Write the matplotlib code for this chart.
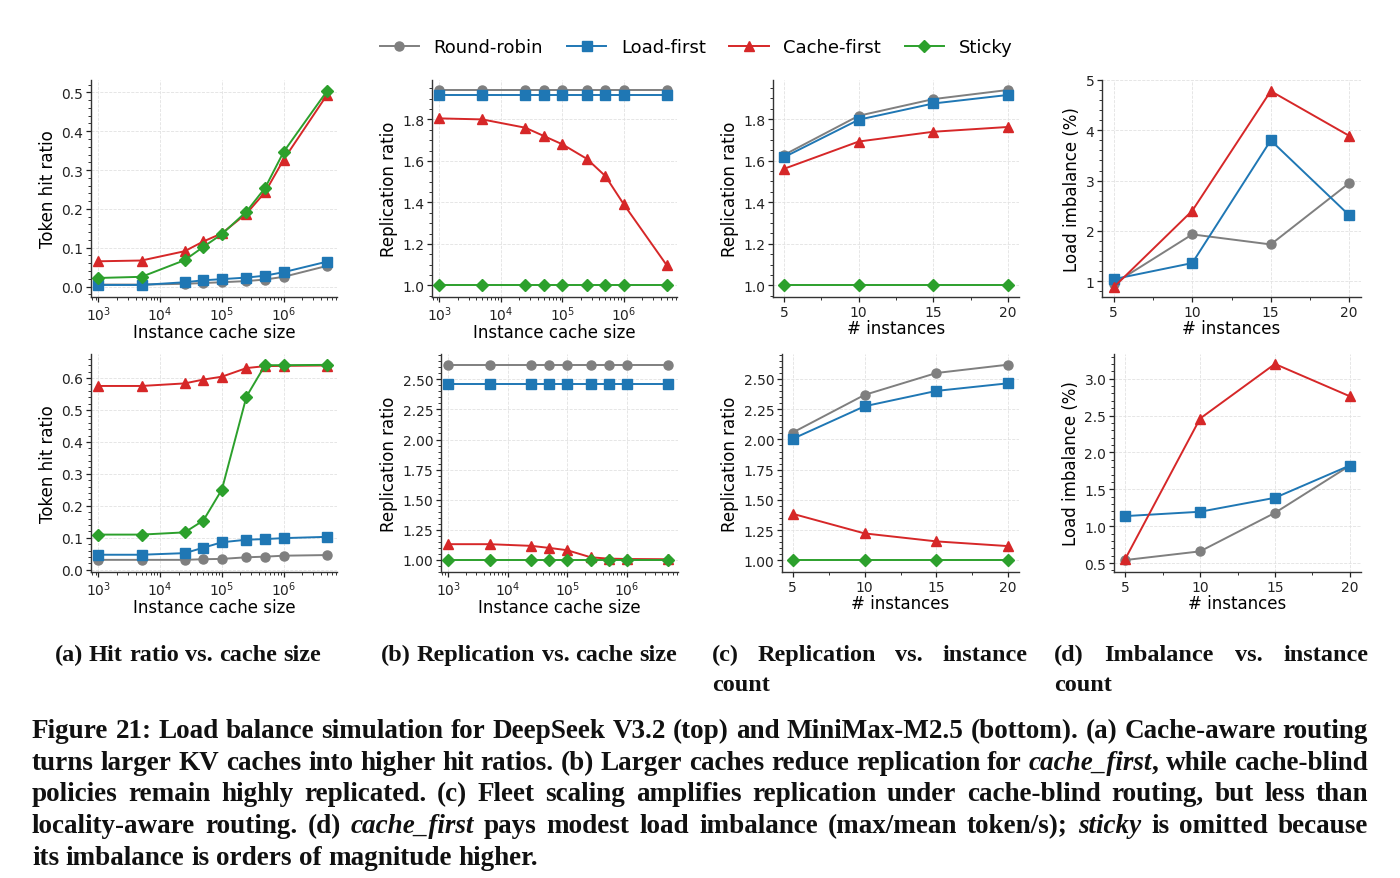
import numpy as np
import matplotlib.pyplot as plt
from matplotlib.ticker import AutoMinorLocator, MultipleLocator

policies = ['Round-robin', 'Load-first', 'Cache-first', 'Sticky']
colors = ['#7f7f7f', '#1f77b4', '#d62728', '#2ca02c']
markers = ['o', 's', '^', 'D']

cache_sizes = [1e3, 5e3, 2.5e4, 5e4, 1e5, 2.5e5, 5e5, 1e6, 5e6]
instances = [5, 10, 15, 20]

# DeepSeek V3.2 (top row)
ds_hit = {
    'Round-robin': [0.005, 0.005, 0.007, 0.009, 0.011, 0.014, 0.018, 0.025, 0.053],
    'Load-first': [0.004, 0.004, 0.011, 0.016, 0.019, 0.023, 0.028, 0.037, 0.064],
    'Cache-first': [0.065, 0.067, 0.091, 0.116, 0.137, 0.188, 0.243, 0.327, 0.493],
    'Sticky': [0.022, 0.025, 0.068, 0.102, 0.135, 0.193, 0.254, 0.347, 0.503],
}
ds_rep_cache = {
    'Round-robin': [1.941, 1.941, 1.941, 1.941, 1.941, 1.941, 1.941, 1.941, 1.941],
    'Load-first': [1.920, 1.920, 1.920, 1.920, 1.920, 1.920, 1.920, 1.920, 1.920],
    'Cache-first': [1.805, 1.800, 1.760, 1.720, 1.680, 1.610, 1.527, 1.390, 1.096],
    'Sticky': [1.0, 1.0, 1.0, 1.0, 1.0, 1.0, 1.0, 1.0, 1.0],
}
ds_rep_inst = {
    'Round-robin': [1.628, 1.816, 1.896, 1.940],
    'Load-first': [1.617, 1.797, 1.875, 1.916],
    'Cache-first': [1.561, 1.692, 1.739, 1.762],
    'Sticky': [1.0, 1.0, 1.0, 1.0],
}
ds_imb = {
    'Round-robin': [0.95, 1.93, 1.73, 2.95],
    'Load-first': [1.04, 1.36, 3.80, 2.31],
    'Cache-first': [0.88, 2.40, 4.78, 3.89],
}

# MiniMax-M2.5 (bottom row)
mm_hit = {
    'Round-robin': [0.031, 0.031, 0.031, 0.033, 0.034, 0.039, 0.041, 0.044, 0.046],
    'Load-first': [0.047, 0.047, 0.052, 0.069, 0.086, 0.094, 0.096, 0.099, 0.103],
    'Cache-first': [0.575, 0.575, 0.583, 0.595, 0.604, 0.631, 0.637, 0.638, 0.639],
    'Sticky': [0.110, 0.110, 0.117, 0.154, 0.251, 0.542, 0.640, 0.640, 0.641],
}
mm_rep_cache = {
    'Round-robin': [2.619, 2.619, 2.619, 2.619, 2.619, 2.619, 2.619, 2.619, 2.619],
    'Load-first': [2.464, 2.464, 2.464, 2.464, 2.464, 2.464, 2.464, 2.464, 2.464],
    'Cache-first': [1.131, 1.131, 1.117, 1.100, 1.081, 1.022, 1.011, 1.008, 1.006],
    'Sticky': [1.0, 1.0, 1.0, 1.0, 1.0, 1.0, 1.0, 1.0, 1.0],
}
mm_rep_inst = {
    'Round-robin': [2.057, 2.368, 2.549, 2.618],
    'Load-first': [2.005, 2.274, 2.401, 2.464],
    'Cache-first': [1.385, 1.223, 1.157, 1.118],
    'Sticky': [1.0, 1.0, 1.0, 1.0],
}
mm_imb = {
    'Round-robin': [0.54, 0.658, 1.18, 1.82],
    'Load-first': [1.136, 1.195, 1.384, 1.822],
    'Cache-first': [0.554, 2.459, 3.199, 2.761],
}

W, H = 1400, 879
fig = plt.figure(figsize=(14, 8.79), dpi=100)


def px_axes(l, t, r, b):
    return fig.add_axes([l / W, 1 - b / H, (r - l) / W, (b - t) / H])


def draw_panel(ax, xs, data, logx, ylabel, ylim, ystep):
    for name, c, m in zip(policies, colors, markers):
        if name not in data:
            continue
        ms = 6 if m == 'D' else 6.5
        ax.plot(xs, data[name], color=c, marker=m, ms=ms, lw=1.4, label=name,
                clip_on=False, zorder=3)
    for s in ['top', 'right']:
        ax.spines[s].set_visible(False)
    for s in ['left', 'bottom']:
        ax.spines[s].set_linewidth(1.0)
        ax.spines[s].set_color('#333333')
    ax.grid(True, which='major', color='#e2e2e2', ls='--', lw=0.6)
    ax.set_axisbelow(True)
    if logx:
        ax.set_xscale('log')
        ax.set_xlim(760, 7.3e6)
        ax.set_xlabel('Instance cache size', fontsize=12, labelpad=0)
    else:
        ax.set_xticks(instances)
        ax.xaxis.set_minor_locator(AutoMinorLocator(2))
        ax.set_xlim(4.25, 20.75)
        ax.set_xlabel('# instances', fontsize=12, labelpad=0)
    ax.yaxis.set_major_locator(MultipleLocator(ystep))
    ax.yaxis.set_minor_locator(AutoMinorLocator())
    ax.set_ylim(*ylim)
    ax.set_ylabel(ylabel, fontsize=12, labelpad=3)
    ax.tick_params(which='major', labelsize=10, length=3.5, width=0.9,
                   colors='#222222', pad=2)
    ax.tick_params(which='minor', length=2, width=0.7, colors='#333333')


a1 = px_axes(91, 81, 337, 298)
draw_panel(a1, cache_sizes, ds_hit, True, 'Token hit ratio', (-0.027, 0.532), 0.1)
a2 = px_axes(432, 81, 677, 298)
draw_panel(a2, cache_sizes, ds_rep_cache, True, 'Replication ratio', (0.944, 1.99), 0.2)
a3 = px_axes(773, 81, 1019, 298)
draw_panel(a3, instances, ds_rep_inst, False, 'Replication ratio', (0.944, 1.988), 0.2)
a4 = px_axes(1102, 81, 1361, 298)
draw_panel(a4, instances, ds_imb, False, 'Load imbalance (%)', (0.685, 5.0), 1)

b1 = px_axes(91, 355, 337, 573)
draw_panel(b1, cache_sizes, mm_hit, True, 'Token hit ratio', (-0.007, 0.675), 0.1)
b2 = px_axes(441, 355, 678, 573)
draw_panel(b2, cache_sizes, mm_rep_cache, True, 'Replication ratio', (0.90, 2.71), 0.25)
b3 = px_axes(782, 355, 1019, 573)
draw_panel(b3, instances, mm_rep_inst, False, 'Replication ratio', (0.904, 2.706), 0.25)
b4 = px_axes(1114, 355, 1361, 573)
draw_panel(b4, instances, mm_imb, False, 'Load imbalance (%)', (0.378, 3.334), 0.5)

handles, labels = a1.get_legend_handles_labels()
fig.legend(handles, labels, loc='center', bbox_to_anchor=(696 / W, 1 - 48 / H),
           ncol=4, frameon=False, fontsize=13, handlelength=2.2,
           handletextpad=0.8, columnspacing=1.3)

# caption text, justified word by word
renderer = fig.canvas.get_renderer()
serif = 'Liberation Serif'


def put_line(line, x0, x1, y, size, justify=True, center=False):
    words = []
    for w in line.split(' '):
        segs = [(p, i % 2 == 1) for i, p in enumerate(w.split('*')) if p]
        words.append(segs)
    placed = []
    widths = []
    for segs in words:
        items = []
        tot = 0
        for txt, it in segs:
            t = fig.text(0, 1 - y / H, txt, fontsize=size, fontfamily=serif,
                         fontweight='bold', fontstyle='italic' if it else 'normal',
                         va='baseline', ha='left', color='#111111')
            wpx = t.get_window_extent(renderer).width
            items.append((t, wpx))
            tot += wpx
        placed.append(items)
        widths.append(tot)
    probe = fig.text(0, 0, 'a a', fontsize=size, fontfamily=serif, fontweight='bold')
    probe2 = fig.text(0, 0, 'aa', fontsize=size, fontfamily=serif, fontweight='bold')
    space = probe.get_window_extent(renderer).width - probe2.get_window_extent(renderer).width
    probe.remove()
    probe2.remove()
    if justify and len(words) > 1:
        gap = (x1 - x0 - sum(widths)) / (len(words) - 1)
    else:
        gap = space
    total = sum(widths) + gap * (len(words) - 1)
    x = (x0 + x1) / 2 - total / 2 if center else x0
    for items, tw in zip(placed, widths):
        xx = x
        for t, wpx in items:
            t.set_x(xx / W)
            xx += wpx
        x += tw + gap


put_line('(a) Hit ratio vs. cache size', 52, 323, 661, 17.5, justify=False, center=True)
put_line('(b) Replication vs. cache size', 377, 681, 661, 17.5, justify=False, center=True)
put_line('(c) Replication vs. instance', 712, 1027, 661, 17.5)
put_line('count', 712, 1027, 691, 17.5, justify=False)
put_line('(d) Imbalance vs. instance', 1054, 1368, 661, 17.5)
put_line('count', 1054, 1368, 691, 17.5, justify=False)

cap_lines = [
    'Figure 21: Load balance simulation for DeepSeek V3.2 (top) and MiniMax-M2.5 (bottom). (a) Cache-aware routing',
    'turns larger KV caches into higher hit ratios. (b) Larger caches reduce replication for *cache_first*, while cache-blind',
    'policies remain highly replicated. (c) Fleet scaling amplifies replication under cache-blind routing, but less than',
    'locality-aware routing. (d) *cache_first* pays modest load imbalance (max/mean token/s); *sticky* is omitted because',
    'its imbalance is orders of magnitude higher.',
]
baselines = [738, 770, 801, 833, 865]
for i, (ln, yb) in enumerate(zip(cap_lines, baselines)):
    put_line(ln, 32, 1368, yb, 19.5, justify=(i < len(cap_lines) - 1))

fig.savefig('out.png', dpi=100)
